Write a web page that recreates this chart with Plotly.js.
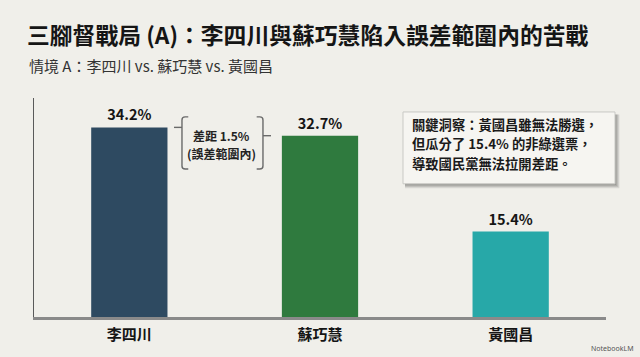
<!DOCTYPE html>
<html>
<head>
<meta charset="utf-8">
<script src="https://cdn.plot.ly/plotly-3.0.1.min.js"></script>
<style>
html,body{margin:0;padding:0;background:#f0efea;}
#chart{width:640px;height:357px;}
</style>
</head>
<body>
<div id="chart"></div>
<script>
// ---- data ----
const candidates = ['李四川', '蘇巧慧', '黃國昌'];
const shares = [34.2, 32.7, 15.4];
const barColors = ['#2e4a61', '#2f7a3e', '#27a8a8'];
const titleText = '三腳督戰局 (A)：李四川與蘇巧慧陷入誤差範圍內的苦戰';
const subtitleText = '情境 A：李四川 vs. 蘇巧慧 vs. 黃國昌';

const FONT = '"Noto Sans CJK TC", "Noto Sans", sans-serif';
const gap = (shares[0] - shares[1]).toFixed(1);

// helpers: pixel -> paper coordinates of the plot area
const PL = 34, PW = 572, PB = 317.5, PH = 219.5;
const px = v => (v - PL) / PW;
const py = v => (PB - v) / PH;

// bracket geometry (paper x, data y)
const bTop = 36.1, bBot = 26.7, ry = 0.55, rx = 0.0055;
const lx = 0.2587, lxc = 0.2697, ltick = 0.2448;
const rxv = 0.4003, rxc = 0.3893, rtick = 0.4143;
const bracketLine = {color: '#6a6a6a', width: 1.4};

const leftPath = `M ${lxc},${bTop} L ${lx + rx},${bTop} Q ${lx},${bTop} ${lx},${bTop - ry} L ${lx},${bBot + ry} Q ${lx},${bBot} ${lx + rx},${bBot} L ${lxc},${bBot}`;
const rightPath = `M ${rxc},${bTop} L ${rxv - rx},${bTop} Q ${rxv},${bTop} ${rxv},${bTop - ry} L ${rxv},${bBot + ry} Q ${rxv},${bBot} ${rxv - rx},${bBot} L ${rxc},${bBot}`;

// callout box (paper coords)
const bx0 = px(403), bx1 = px(615), by0 = py(184), by1 = py(112);
const shadows = [];
for (let i = 4; i >= 1; i--) {
  shadows.push({type: 'rect', xref: 'paper', yref: 'paper', layer: 'above',
    x0: bx0 + 0.0035, x1: bx1 + i * 0.0019, y0: by0 - i * 0.005, y1: by1 - 0.012,
    fillcolor: 'rgba(0,0,0,0.10)', line: {width: 0}});
}

const bracketLines = [`差距 ${gap}%`, '(誤差範圍內)'];
const bracketLineY = [136, 154];
const calloutLines = [
  `關鍵洞察：${candidates[2]}雖無法勝選，`,
  `但瓜分了 ${shares[2].toFixed(1)}% 的非綠選票，`,
  '導致國民黨無法拉開差距。'
];
const calloutLineY = [124.5, 144, 163.5];

const trace = {
  type: 'bar',
  x: candidates,
  y: shares,
  marker: {color: barColors, line: {width: 0}},
  text: shares.map(v => v.toFixed(1) + '%'),
  textposition: 'outside',
  textfont: {family: FONT, size: 14.5, color: '#151515', weight: 'bold'},
  cliponaxis: false,
  hoverinfo: 'skip'
};

const annotations = [
  {text: subtitleText, xref: 'paper', yref: 'paper',
    x: px(27), y: py(65), xanchor: 'left', yanchor: 'middle',
    showarrow: false, font: {family: FONT, size: 15, color: '#333'}},
  {text: 'NotebookLM', xref: 'paper', yref: 'paper',
    x: px(636), y: py(349), xanchor: 'right', yanchor: 'middle',
    showarrow: false, font: {family: '"Noto Sans", sans-serif', size: 7, color: '#555'}}
];
bracketLines.forEach((t, i) => annotations.push({
  text: t, xref: 'paper', yref: 'paper', x: px(222), y: py(bracketLineY[i]),
  xanchor: 'center', yanchor: 'middle', showarrow: false, borderpad: 0,
  font: {family: FONT, size: 12, color: '#222', weight: 'bold'}
}));
calloutLines.forEach((t, i) => annotations.push({
  text: t, xref: 'paper', yref: 'paper', x: px(411), y: py(calloutLineY[i]),
  xanchor: 'left', yanchor: 'middle', showarrow: false, borderpad: 0,
  font: {family: FONT, size: 13.3, color: '#1a1a1a', weight: 'bold'}
}));

const layout = {
  width: 640, height: 357,
  paper_bgcolor: '#f0efea', plot_bgcolor: '#f0efea',
  margin: {l: 34, r: 34, t: 98, b: 39.5, pad: 0},
  bargap: 0.6,
  showlegend: false,
  font: {family: FONT, color: '#222'},
  title: {
    text: titleText,
    font: {family: FONT, size: 22.8, color: '#151515', weight: 'bold'},
    xref: 'container', yref: 'container',
    x: 27 / 640, xanchor: 'left',
    y: 1 - 36 / 357, yanchor: 'middle',
    pad: {t: 0, b: 0, l: 0, r: 0}
  },
  xaxis: {
    type: 'category',
    showline: true, linecolor: '#8a8a8a', linewidth: 2.5,
    ticks: '', showgrid: false, zeroline: false,
    tickfont: {family: FONT, size: 15, color: '#151515', weight: 'bold'},
    ticklabelstandoff: 2,
    fixedrange: true
  },
  yaxis: {
    range: [0, 39.5],
    showline: true, linecolor: '#5a5a5a', linewidth: 1.5,
    showticklabels: false, ticks: '', showgrid: false, zeroline: false,
    fixedrange: true
  },
  shapes: [
    {type: 'path', xref: 'paper', yref: 'y', path: leftPath, line: bracketLine},
    {type: 'line', xref: 'paper', yref: 'y', x0: ltick, x1: lx, y0: shares[0], y1: shares[0], line: bracketLine},
    {type: 'path', xref: 'paper', yref: 'y', path: rightPath, line: bracketLine},
    {type: 'line', xref: 'paper', yref: 'y', x0: rxv, x1: rtick, y0: shares[1], y1: shares[1], line: bracketLine},
    ...shadows,
    {type: 'rect', xref: 'paper', yref: 'paper', layer: 'above',
      x0: bx0, x1: bx1, y0: by0, y1: by1,
      fillcolor: '#f6f5f1', line: {color: '#c9c9c5', width: 1}}
  ],
  annotations: annotations
};

Plotly.newPlot('chart', [trace], layout, {displayModeBar: false, staticPlot: true});
</script>
</body>
</html>
